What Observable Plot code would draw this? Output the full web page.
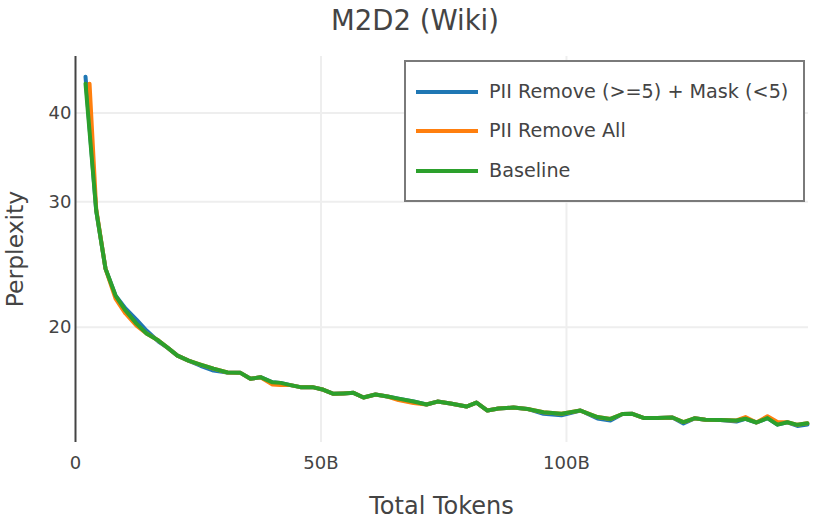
<!DOCTYPE html>
<html>
<head>
<meta charset="utf-8">
<script src="https://cdn.jsdelivr.net/npm/d3@7"></script>
<script src="https://cdn.jsdelivr.net/npm/@observablehq/plot@0.6"></script>
<style>
  html, body { margin: 0; padding: 0; background: #fff; }
  #wrap { position: relative; width: 830px; height: 520px; font-family: "DejaVu Sans", sans-serif; color: #444; overflow: hidden; }
  #wrap svg { position: absolute; left: 0; top: 0; }
  .abs { position: absolute; white-space: nowrap; }
</style>
</head>
<body>
<div id="wrap"></div>
<script>
// ---- data ----
const tokens = [2.04, 4.22, 6.11, 8.15, 10.18, 12.42, 14.46, 16.90, 18.74, 20.77, 23.01, 25.46, 28.11, 30.96, 33.60, 35.64, 37.68, 40.12, 41.75, 43.79, 45.82, 48.27, 50.51, 52.55, 54.58, 56.62, 58.66, 61.10, 63.54, 65.78, 68.84, 71.49, 73.73, 76.37, 79.63, 81.67, 83.91, 86.15, 89.21, 92.06, 95.32, 98.98, 102.85, 106.31, 108.96, 111.41, 113.44, 115.68, 118.53, 121.59, 123.83, 126.07, 128.31, 131.36, 134.62, 136.46, 138.70, 140.94, 142.97, 145.01, 147.05, 149.08];
const removeAllStart = 2.86;

const piiMask = [44.96, 29.16, 24.18, 22.16, 21.25, 20.50, 19.79, 19.10, 18.73, 18.25, 17.96, 17.66, 17.39, 17.28, 17.26, 16.93, 17.02, 16.74, 16.71, 16.59, 16.48, 16.48, 16.34, 16.13, 16.15, 16.18, 15.94, 16.09, 15.99, 15.88, 15.73, 15.58, 15.73, 15.63, 15.48, 15.68, 15.28, 15.38, 15.43, 15.36, 15.12, 15.05, 15.28, 14.89, 14.79, 15.11, 15.12, 14.92, 14.92, 14.94, 14.65, 14.90, 14.83, 14.82, 14.75, 14.88, 14.70, 14.91, 14.60, 14.71, 14.54, 14.60];

const piiRemoveAll = [43.96, 29.30, 24.18, 21.94, 20.91, 20.11, 19.60, 19.16, 18.73, 18.25, 17.96, 17.73, 17.50, 17.28, 17.26, 16.93, 17.02, 16.62, 16.59, 16.59, 16.48, 16.48, 16.34, 16.13, 16.15, 16.18, 15.94, 16.09, 15.99, 15.81, 15.66, 15.58, 15.73, 15.63, 15.48, 15.68, 15.28, 15.38, 15.43, 15.36, 15.20, 15.12, 15.28, 14.96, 14.87, 15.11, 15.12, 14.92, 14.92, 14.94, 14.72, 14.90, 14.83, 14.82, 14.80, 14.96, 14.70, 15.00, 14.72, 14.71, 14.59, 14.66];

const baseline = [43.96, 29.16, 24.18, 22.16, 21.11, 20.24, 19.60, 19.16, 18.73, 18.25, 17.96, 17.73, 17.50, 17.28, 17.26, 16.93, 17.02, 16.74, 16.71, 16.59, 16.48, 16.48, 16.34, 16.13, 16.15, 16.18, 15.94, 16.09, 15.99, 15.88, 15.73, 15.58, 15.73, 15.63, 15.48, 15.68, 15.28, 15.38, 15.43, 15.36, 15.20, 15.12, 15.28, 14.96, 14.87, 15.11, 15.12, 14.92, 14.92, 14.94, 14.72, 14.90, 14.83, 14.82, 14.80, 14.88, 14.70, 14.91, 14.60, 14.71, 14.59, 14.66];

const seriesNames = ["PII Remove (>=5) + Mask (<5)", "PII Remove All", "Baseline"];
const seriesColors = ["#1f77b4", "#ff7f0e", "#2ca02c"];
const yTicks = [20, 30, 40];
const xTicks = [0, 50, 100];
const xTickLabels = ["0", "50B", "100B"];
const titleText = "M2D2 (Wiki)";
const xTitle = "Total Tokens";
const yTitle = "Perplexity";

// ---- build tables ----
const maskData = tokens.map((t, i) => ({t, v: piiMask[i]}));
const removeData = tokens.map((t, i) => ({t: i === 0 ? removeAllStart : t, v: piiRemoveAll[i]}));
const baseData = tokens.map((t, i) => ({t, v: baseline[i]}));

const lineOpts = {x: "t", y: "v", strokeWidth: 4, strokeLinejoin: "round", strokeLinecap: "round"};

const chart = Plot.plot({
  width: 830,
  height: 520,
  marginLeft: 75,
  marginRight: 22,
  marginTop: 56,
  marginBottom: 78,
  style: {fontFamily: "DejaVu Sans, sans-serif", fontSize: "18px", color: "#444", background: "transparent"},
  x: {domain: [0, 149.3]},
  y: {type: "log", domain: [13.78, 48]},
  marks: [
    Plot.ruleY(yTicks, {stroke: "#eeeeee", strokeWidth: 2}),
    Plot.ruleX([50, 100], {stroke: "#eeeeee", strokeWidth: 2}),
    Plot.line(maskData, {...lineOpts, stroke: seriesColors[0]}),
    Plot.line(removeData, {...lineOpts, stroke: seriesColors[1]}),
    Plot.line(baseData, {...lineOpts, stroke: seriesColors[2]}),
    Plot.ruleX([0], {stroke: "#444", strokeWidth: 2}),
    Plot.axisY(yTicks, {tickSize: 0, tickPadding: 4, tickFormat: d => String(d), label: null, fontSize: 18, fill: "#444"}),
    Plot.axisX(xTicks, {tickSize: 0, tickPadding: 14, tickFormat: d => xTickLabels[xTicks.indexOf(d)], label: null, fontSize: 18, fill: "#444"})
  ]
});

const wrap = document.getElementById("wrap");
wrap.appendChild(chart);

function addDiv(text, css) {
  const d = document.createElement("div");
  d.className = "abs";
  d.textContent = text;
  Object.assign(d.style, css);
  wrap.appendChild(d);
  return d;
}

// title
addDiv(titleText, {left: "0px", top: "3px", width: "830px", textAlign: "center", fontSize: "27.5px", lineHeight: "34px"});
// x axis title
addDiv(xTitle, {left: "75px", top: "491px", width: "733px", textAlign: "center", fontSize: "24px", lineHeight: "30px"});
// y axis title
addDiv(yTitle, {left: "15px", top: "249px", fontSize: "23.5px", lineHeight: "28px", transform: "translate(-50%,-50%) rotate(-90deg)"});

// legend box
const box = document.createElement("div");
Object.assign(box.style, {position: "absolute", left: "404px", top: "60px", width: "401px", height: "142px", boxSizing: "border-box", border: "2px solid #7a7a7a", background: "#fff"});
wrap.appendChild(box);
const legendY = [92, 131, 171];
seriesNames.forEach((name, i) => {
  const sw = document.createElement("div");
  Object.assign(sw.style, {position: "absolute", left: "416px", top: (legendY[i] - 2) + "px", width: "62px", height: "4px", background: seriesColors[i]});
  wrap.appendChild(sw);
  addDiv(name, {left: "489px", top: (legendY[i] - 12) + "px", fontSize: "19.2px", lineHeight: "24px"});
});
</script>
</body>
</html>
